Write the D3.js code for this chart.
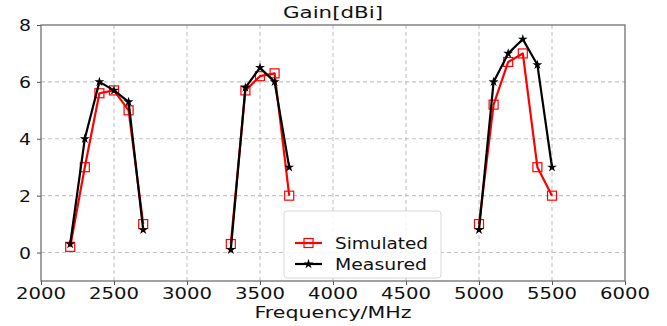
<!DOCTYPE html>
<html>
<head>
<meta charset="utf-8">
<script src="https://cdn.jsdelivr.net/npm/d3@7/dist/d3.min.js"></script>
<style>
  html, body { margin: 0; padding: 0; background: #fff; }
  svg { display: block; }
  text { font-family: "DejaVu Sans", sans-serif; fill: #111; }
</style>
</head>
<body>
<svg id="chart" width="667" height="326"></svg>
<script>
// Gain per frequency for the three operating bands
const freq      = [2200, 2300, 2400, 2500, 2600, 2700, 3300, 3400, 3500, 3600, 3700, 5000, 5100, 5200, 5300, 5400, 5500];
const bandIndex = [0, 0, 0, 0, 0, 0, 1, 1, 1, 1, 1, 2, 2, 2, 2, 2, 2];
const simulated = [0.2, 3.0, 5.6, 5.7, 5.0, 1.0, 0.3, 5.7, 6.2, 6.3, 2.0, 1.0, 5.2, 6.7, 7.0, 3.0, 2.0];
const measured  = [0.3, 4.0, 6.0, 5.7, 5.3, 0.8, 0.1, 5.8, 6.5, 6.0, 3.0, 0.8, 6.0, 7.0, 7.5, 6.6, 3.0];

const xTicks = [2000, 2500, 3000, 3500, 4000, 4500, 5000, 5500, 6000];
const yTicks = [0, 2, 4, 6, 8];
const seriesNames = ["Simulated", "Measured"];
const titleText = "Gain[dBi]";
const xLabelText = "Frequency/MHz";

const svg = d3.select("#chart");
const plot = { left: 41, right: 625, top: 25, bottom: 281 };

const x = d3.scaleLinear().domain([2000, 6000]).range([plot.left, plot.right]);
const y = d3.scaleLinear().domain([-1, 8]).range([plot.bottom, plot.top]);

// stretched text helper: wide glyphs as in the original plot
function label(g, str, px, py, anchor, size, width) {
  const t = g.append("text")
    .attr("x", px).attr("y", py)
    .attr("text-anchor", anchor)
    .attr("font-size", size)
    .text(str);
  if (width) t.attr("textLength", width).attr("lengthAdjust", "spacingAndGlyphs");
  return t;
}

// grid
const grid = svg.append("g");
grid.selectAll("line.gx").data(xTicks.slice(1, -1)).join("line")
  .attr("x1", d => x(d)).attr("x2", d => x(d))
  .attr("y1", plot.top).attr("y2", plot.bottom)
  .attr("stroke", "#c4c4c4").attr("stroke-width", 1.1).attr("stroke-dasharray", "4,3");
grid.selectAll("line.gy").data(yTicks.slice(0, -1)).join("line")
  .attr("x1", plot.left).attr("x2", plot.right)
  .attr("y1", d => y(d)).attr("y2", d => y(d))
  .attr("stroke", "#c4c4c4").attr("stroke-width", 1.1).attr("stroke-dasharray", "4,3");

// axes
const xAxis = svg.append("g").attr("transform", `translate(0,${plot.bottom})`)
  .call(d3.axisBottom(x).tickValues(xTicks).tickSize(4).tickFormat(""));
const yAxis = svg.append("g").attr("transform", `translate(${plot.left},0)`)
  .call(d3.axisLeft(y).tickValues(yTicks).tickSize(4).tickFormat(""));
[xAxis, yAxis].forEach(a => {
  a.select(".domain").remove();
  a.selectAll(".tick line").attr("stroke", "#555").attr("stroke-width", 1);
});

const tickLabels = svg.append("g");
xTicks.forEach(v => label(tickLabels, String(v), x(v), 299, "middle", 16, v >= 1000 ? 50 : null));
yTicks.forEach(v => label(tickLabels, String(v), 31, y(v) + 6, "end", 16, 12));

// frame
svg.append("rect")
  .attr("x", plot.left).attr("y", plot.top)
  .attr("width", plot.right - plot.left).attr("height", plot.bottom - plot.top)
  .attr("fill", "none").attr("stroke", "#707070").attr("stroke-width", 1.3);

// title and axis label
label(svg, titleText, (plot.left + plot.right) / 2, 18, "middle", 16, 100);
label(svg, xLabelText, (plot.left + plot.right) / 2, 318, "middle", 16, 157);

// series
const rows = freq.map((f, i) => ({ f, band: bandIndex[i], sim: simulated[i], meas: measured[i] }));
const bands = d3.groups(rows, d => d.band).map(g => g[1]);

const series = [
  { key: "sim", color: "#ff0000" },
  { key: "meas", color: "#000000" }
];

const lineFor = key => d3.line().x(d => x(d.f)).y(d => y(d[key]));
const star = d3.symbol().type(d3.symbolStar).size(30);

series.forEach(s => {
  const g = svg.append("g");
  g.selectAll("path.band").data(bands).join("path")
    .attr("d", lineFor(s.key))
    .attr("fill", "none").attr("stroke", s.color)
    .attr("stroke-width", 2.2).attr("stroke-linejoin", "round");
  if (s.key === "sim") {
    g.selectAll("rect").data(rows).join("rect")
      .attr("x", d => x(d.f) - 4.5).attr("y", d => y(d.sim) - 4.5)
      .attr("width", 9).attr("height", 9)
      .attr("fill", "none").attr("stroke", s.color).attr("stroke-width", 1.2);
  } else {
    g.selectAll("path.mk").data(rows).join("path")
      .attr("transform", d => `translate(${x(d.f)},${y(d.meas)})`)
      .attr("d", star).attr("fill", s.color);
  }
});

// legend
const lg = svg.append("g");
lg.append("rect")
  .attr("x", 284).attr("y", 211).attr("width", 157).attr("height", 67).attr("rx", 3)
  .attr("fill", "#fff").attr("fill-opacity", 0.85)
  .attr("stroke", "#d8d8d8").attr("stroke-width", 1);
seriesNames.forEach((name, i) => {
  const ly = 243 + i * 21;
  lg.append("line").attr("x1", 295).attr("x2", 322).attr("y1", ly).attr("y2", ly)
    .attr("stroke", series[i].color).attr("stroke-width", 2.2);
  if (i === 0) {
    lg.append("rect").attr("x", 308.5 - 4.5).attr("y", ly - 4.5).attr("width", 9).attr("height", 9)
      .attr("fill", "none").attr("stroke", series[i].color).attr("stroke-width", 1.2);
  } else {
    lg.append("path").attr("transform", `translate(308.5,${ly})`).attr("d", star).attr("fill", series[i].color);
  }
  label(lg, name, 335, ly + 6, "start", 16, i === 0 ? 93 : 92);
});
</script>
</body>
</html>
